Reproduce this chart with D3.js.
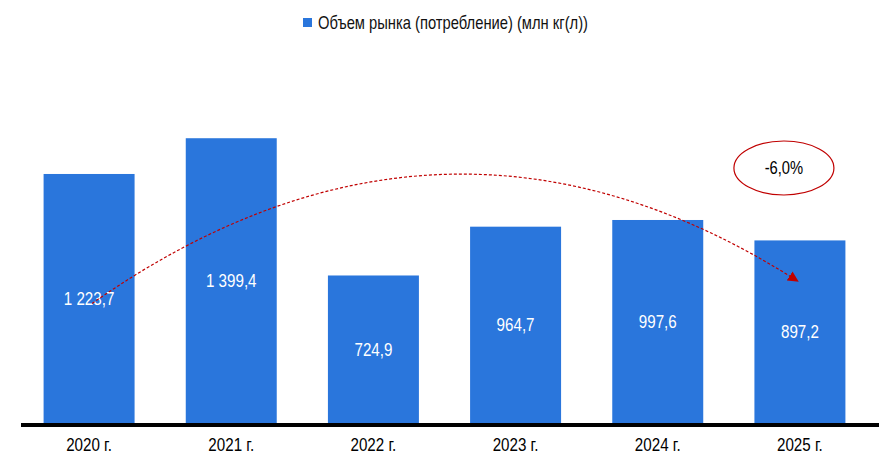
<!DOCTYPE html>
<html>
<head>
    <meta charset="utf-8">
    <style>
        body { margin: 0; background: #fff; }
        text { font-family: "Liberation Sans", Arial, sans-serif; }
        .val { fill: #fff; font-size: 18.5px; text-anchor: middle; }
        .tick-lbl { fill: #000; font-size: 18.5px; text-anchor: middle; }
        .legend { fill: #111; font-size: 18px; }
    </style>
    <script src="https://cdnjs.cloudflare.com/ajax/libs/d3/7.8.5/d3.min.js"></script>
</head>
<body>
    <script>
        // data
        var years = ["2020 г.", "2021 г.", "2022 г.", "2023 г.", "2024 г.", "2025 г."];
        var values = [1223.7, 1399.4, 724.9, 964.7, 997.6, 897.2];
        var seriesName = "Объем рынка (потребление) (млн кг(л))";
        var changeLabel = "-6,0%";

        var width = 879, height = 472,
            base = 423,
            narrow = "scale(0.82,1)",   // no Arial Narrow here, squeeze Liberation Sans
            blue = "#2A76DC",
            red = "#C00000";

        var fmt = function(v) {
            var s = v.toFixed(1).replace(".", ",");
            var parts = s.split(",");
            parts[0] = parts[0].replace(/\B(?=(\d{3})+(?!\d))/g, " ");
            return parts.join(",");
        };

        var svg = d3.select("body").append("svg")
                    .attr("width", width)
                    .attr("height", height);

        var x = d3.scaleBand()
                  .domain(years)
                  .range([18, 871])
                  .paddingInner(0.36)
                  .paddingOuter(0.18);

        var y = d3.scaleLinear()
                  .domain([0, 1600])
                  .range([base, base - 1600 * 0.2035]);

        // bars
        svg.selectAll(".bar")
           .data(values)
           .enter().append("rect")
           .attr("class", "bar")
           .attr("x", function(d, i) { return x(years[i]); })
           .attr("width", x.bandwidth())
           .attr("y", function(d) { return y(d); })
           .attr("height", function(d) { return base - y(d); })
           .attr("fill", blue);

        // value labels in the middle of each bar
        svg.selectAll(".val")
           .data(values)
           .enter().append("text")
           .attr("class", "val")
           .attr("transform", function(d, i) {
               return "translate(" + (x(years[i]) + x.bandwidth() / 2) + "," + y(d / 2) + ") " + narrow;
           })
           .attr("dy", "0.35em")
           .text(fmt);

        // x axis
        var axis = svg.append("g")
                      .attr("transform", "translate(0," + (base + 2) + ")")
                      .call(d3.axisBottom(x).tickSize(0).tickPadding(13));
        axis.select(".domain").remove();
        axis.append("line")
            .attr("x1", 21).attr("x2", 879)
            .attr("y1", 0).attr("y2", 0)
            .attr("stroke", "#000")
            .attr("stroke-width", 4);
        axis.selectAll(".tick text")
            .attr("class", "tick-lbl")
            .attr("font-size", null)
            .attr("font-family", null)
            .attr("fill", "#000")
            .attr("transform", narrow);

        // legend
        var lg = svg.append("g").attr("transform", "translate(303,18)");
        lg.append("rect").attr("width", 9).attr("height", 9).attr("fill", blue);
        lg.append("text").attr("class", "legend")
          .attr("transform", "translate(15,4.5) " + narrow)
          .attr("dy", "0.35em")
          .text(seriesName);

        // dashed arrow from first bar to last bar
        svg.append("defs").append("marker")
           .attr("id", "arr")
           .attr("viewBox", "0 0 10 10")
           .attr("refX", 8).attr("refY", 5)
           .attr("markerWidth", 9).attr("markerHeight", 9)
           .attr("markerUnits", "strokeWidth")
           .attr("orient", "auto")
           .append("path")
           .attr("d", "M0,0 L10,5 L0,10 Z")
           .attr("fill", red);

        var first = years[0], last = years[years.length - 1];
        var x0 = x(first) + x.bandwidth() / 2 + 3,
            y0 = y(values[0] / 2) + 5,
            x1 = x(last) + x.bandwidth() / 2 - 3,
            y1 = y(values[values.length - 1] * 0.78),
            cx = (x0 + x1) / 2,
            cy = y(1800);
        var p = d3.path();
        p.moveTo(x0, y0);
        p.quadraticCurveTo(cx, cy, x1, y1);
        svg.append("path")
           .attr("d", p.toString())
           .attr("fill", "none")
           .attr("stroke", red)
           .attr("stroke-width", 1.2)
           .attr("stroke-dasharray", "3,2")
           .attr("marker-end", "url(#arr)");

        // change bubble
        var ex = x(last) + x.bandwidth() / 2 - 16, ey = 168;
        svg.append("ellipse")
           .attr("cx", ex).attr("cy", ey)
           .attr("rx", 50).attr("ry", 27)
           .attr("fill", "#fff")
           .attr("stroke", red)
           .attr("stroke-width", 1.2);
        svg.append("text")
           .attr("transform", "translate(" + ex + "," + ey + ") " + narrow)
           .attr("dy", "0.35em")
           .attr("text-anchor", "middle")
           .attr("font-size", 18)
           .attr("fill", "#000")
           .text(changeLabel);
    </script>
</body>
</html>
